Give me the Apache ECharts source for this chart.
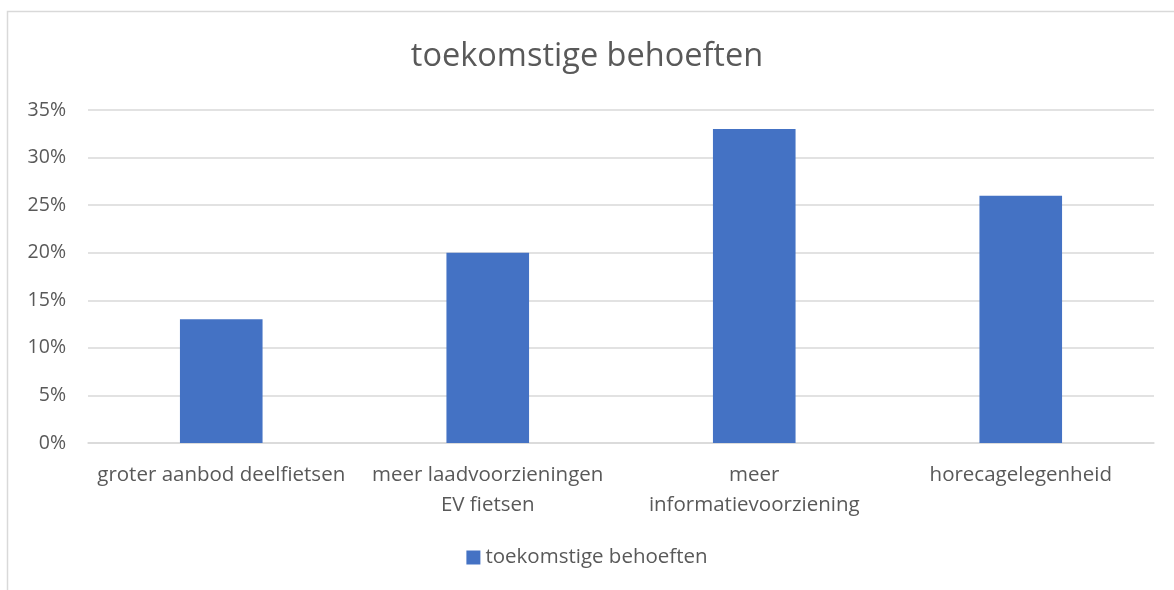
<!DOCTYPE html>
<html>
<head>
<meta charset="utf-8">
<script src="https://cdn.jsdelivr.net/npm/echarts@6/dist/echarts.min.js"></script>
<style>
  html, body { margin: 0; padding: 0; background: #fff; }
  #chart { width: 1174px; height: 590px; }
</style>
</head>
<body>
<div id="chart"></div>
<script>
// categories and values (percent)
var categories = ['groter aanbod deelfietsen', 'meer laadvoorzieningen\nEV fietsen', 'meer\ninformatievoorziening', 'horecagelegenheid'];
var values = [13, 20, 33, 26];
var seriesName = 'toekomstige behoeften';

var chart = echarts.init(document.getElementById('chart'));
var font = '"Open Sans", "Liberation Sans", sans-serif';

var option = {
	backgroundColor: '#fff',
	animation: false,
	textStyle: { fontFamily: font },
	graphic: [{
		type: 'rect',
		shape: { x: 7.5, y: 11.5, width: 1180, height: 600 },
		style: { fill: 'none', stroke: '#d9d9d9', lineWidth: 1.5 },
		silent: true
	}],
	title: {
		text: 'toekomstige behoeften',
		left: 'center',
		top: 35,
		textStyle: { fontFamily: font, fontSize: 32.5, fontWeight: 'normal', color: '#595959' }
	},
	legend: {
		bottom: 17,
		left: 'center',
		itemWidth: 14,
		itemHeight: 14,
		icon: 'rect',
		itemGap: 6,
		textStyle: { fontFamily: font, fontSize: 20.5, color: '#595959' },
		data: [seriesName]
	},
	grid: { left: 88, right: 20, top: 110, bottom: 147 },
	xAxis: {
		type: 'category',
		data: categories,
		axisLine: { lineStyle: { color: '#d9d9d9', width: 1.5 } },
		axisTick: { show: false },
		axisLabel: { fontFamily: font, fontSize: 20.5, color: '#595959', margin: 17, lineHeight: 30, interval: 0 }
	},
	yAxis: {
		type: 'value',
		min: 0,
		max: 35,
		interval: 5,
		axisLine: { show: false },
		axisTick: { show: false },
		splitLine: { lineStyle: { color: '#d9d9d9', width: 1.5 } },
		axisLabel: { fontFamily: font, fontSize: 19.5, color: '#595959', margin: 22, formatter: '{value}%' }
	},
	series: [{
		name: seriesName,
		type: 'bar',
		data: values,
		barWidth: '31%',
		itemStyle: { color: '#4472c4' }
	}]
};
chart.setOption(option);
</script>
</body>
</html>
